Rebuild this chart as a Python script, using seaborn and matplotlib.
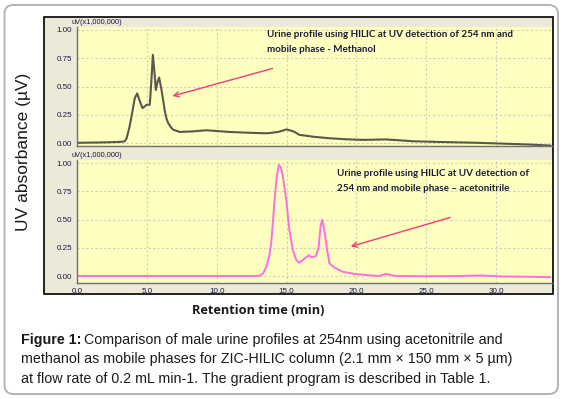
import matplotlib
matplotlib.use("Agg")
import matplotlib.pyplot as plt
import seaborn as sns
from matplotlib.patches import FancyBboxPatch, Rectangle
from matplotlib.transforms import IdentityTransform
from matplotlib.ticker import MultipleLocator

# Methanol trace (top panel)
meoh_time = [0, 1, 2, 3, 3.4, 3.55, 3.75, 3.9, 4.05, 4.14, 4.31, 4.5, 4.69, 4.85, 4.98,
             5.21, 5.33, 5.43, 5.55, 5.64, 5.76, 5.88, 6.05, 6.18, 6.29, 6.4, 6.52, 6.7,
             6.88, 7.36, 8.3, 9.26, 10.9, 12.5, 13.6, 14.4, 15.0, 15.5, 15.9, 16.9, 18.0,
             19.3, 20.5, 22.1, 23.0, 24.0, 25.5, 26.9, 28.5, 29.7, 31.2, 32.5, 33.9]
meoh_uv = [0.004, 0.006, 0.008, 0.012, 0.016, 0.044, 0.14, 0.235, 0.34, 0.40, 0.44, 0.37,
           0.31, 0.325, 0.34, 0.34, 0.56, 0.78, 0.62, 0.47, 0.54, 0.58, 0.47, 0.37, 0.28,
           0.22, 0.18, 0.145, 0.12, 0.10, 0.105, 0.115, 0.10, 0.092, 0.088, 0.10, 0.122,
           0.105, 0.075, 0.058, 0.045, 0.035, 0.03, 0.034, 0.027, 0.018, 0.013, 0.009,
           0.005, 0.0, -0.006, -0.012, -0.02]

# Acetonitrile trace (bottom panel)
acn_time = [0, 2, 5, 8, 11, 12.5, 13.07, 13.3, 13.55, 13.75, 13.9, 14.05, 14.14, 14.3,
            14.45, 14.6, 14.74, 14.98, 15.2, 15.45, 15.7, 15.9, 16.1, 16.3, 16.6, 16.8,
            17.1, 17.3, 17.43, 17.55, 17.7, 17.9, 18.07, 18.4, 19.0, 20.0, 21.0, 21.6,
            22.1, 22.8, 25.0, 27.5, 28.8, 30.5, 32.0, 33.9]
acn_uv = [0.0, 0.0, 0.0, 0.0, 0.0, 0.0, 0.002, 0.02, 0.08, 0.17, 0.29, 0.52, 0.67, 0.88,
          0.985, 0.96, 0.88, 0.67, 0.41, 0.23, 0.14, 0.118, 0.135, 0.156, 0.183, 0.166,
          0.177, 0.26, 0.44, 0.50, 0.41, 0.23, 0.113, 0.077, 0.038, 0.016, 0.006, 0.0,
          0.018, 0.0, -0.002, 0.0, 0.005, -0.004, -0.006, -0.01]

x_ticks = [0, 5, 10, 15, 20, 25, 30]
x_tick_labels = ["0.0", "5.0", "10.0", "15.0", "20.0", "25.0", "30.0"]
y_ticks = [0.0, 0.25, 0.5, 0.75, 1.0]
y_tick_labels = ["0.00", "0.25", "0.50", "0.75", "1.00"]

sns.set_style("white")
plt.rcParams["font.family"] = ["Liberation Sans", "DejaVu Sans"]

W, H = 565, 399
fig = plt.figure(figsize=(W / 100, H / 100), dpi=100)
fig.patch.set_facecolor("white")

# outer rounded box and instrument frame
fig.patches.append(FancyBboxPatch((4.5, 5), 553.5, 389, boxstyle="round,pad=0,rounding_size=9",
                                  transform=IdentityTransform(), facecolor="white",
                                  edgecolor="#b4b4b4", linewidth=1.4, zorder=0))
fig.patches.append(Rectangle((44, H - 294), 509, 277, transform=IdentityTransform(),
                             facecolor="#ece9d8", edgecolor="black", linewidth=1.2, zorder=1))

plot_bg = "#ffffc0"
tick_col = "#1a1a40"


def style_axis(ax, ylim, show_xlabels):
    ax.set_facecolor(plot_bg)
    ax.set_xlim(0, 34)
    ax.set_ylim(*ylim)
    ax.set_xticks(x_ticks)
    ax.set_yticks(y_ticks)
    ax.set_yticklabels(y_tick_labels)
    if show_xlabels:
        ax.set_xticklabels(x_tick_labels)
    else:
        ax.set_xticklabels([])
    ax.xaxis.set_minor_locator(MultipleLocator(1))
    ax.yaxis.set_minor_locator(MultipleLocator(0.05))
    ax.grid(True, which="major", color="#cfcfb8", linestyle=(0, (2, 2)), linewidth=0.8)
    for side in ["top", "right"]:
        ax.spines[side].set_visible(False)
    for side in ["left", "bottom"]:
        ax.spines[side].set_color("#707070")
        ax.spines[side].set_linewidth(1.0)
    ax.tick_params(which="major", direction="inout", length=4, width=0.8, color="#707070",
                   labelsize=5.8, labelcolor=tick_col, pad=1.5)
    ax.tick_params(which="minor", direction="inout", length=2.5, width=0.6, color="#808080")
    ax.set_xlabel("")
    ax.set_ylabel("")
    ax.text(-0.012, 1.005, "uV(x1,000,000)", transform=ax.transAxes, fontsize=5.3,
            color=tick_col, ha="left", va="bottom")


ax1 = fig.add_axes([77 / W, 1 - 146 / H, 475 / W, 119 / H], zorder=2)
sns.lineplot(x=meoh_time, y=meoh_uv, ax=ax1, color="#58584c", linewidth=1.5, estimator=None)
style_axis(ax1, (-0.024, 1.026), False)

ax2 = fig.add_axes([77 / W, 1 - 283 / H, 475 / W, 123 / H], zorder=2)
sns.lineplot(x=acn_time, y=acn_uv, ax=ax2, color="#ff6ee0", linewidth=1.4, estimator=None)
style_axis(ax2, (-0.062, 1.029), True)

note_col = "#1c1c38"
arrow_col = "#ee3d78"
note_font = ["Lato", "DejaVu Sans"]
ax1.text(13.6, 0.895, "Urine profile using HILIC at UV detection of 254 nm and\nmobile phase - Methanol",
         fontsize=7.1, fontweight="bold", color=note_col, family=note_font,
         ha="left", va="center", linespacing=1.9)
ax1.annotate("", xy=(6.64, 0.41), xytext=(14.2, 0.667),
             arrowprops=dict(arrowstyle="->", color=arrow_col, lw=1.0, mutation_scale=9))

ax2.text(18.6, 0.84, "Urine profile using HILIC at UV detection of\n254 nm and mobile phase \u2013 acetonitrile",
         fontsize=7.1, fontweight="bold", color=note_col, family=note_font,
         ha="left", va="center", linespacing=1.9)
ax2.annotate("", xy=(19.4, 0.255), xytext=(26.9, 0.526),
             arrowprops=dict(arrowstyle="->", color=arrow_col, lw=1.0, mutation_scale=9))

fig.text(24 / W, 1 - 152 / H, "UV absorbance (\u00b5V)", rotation=90, fontsize=12.5,
         color="#1a1a1a", ha="center", va="center")
fig.text(258 / W, 1 - 311 / H, "Retention time (min)", fontsize=9.2, fontweight="bold",
         color="#1a1a1a", family=["Open Sans", "DejaVu Sans"], ha="center", va="center")

# caption
cap_size = 10.3
cap_x = 21 / W
t_bold = fig.text(cap_x, 1 - 340 / H, "Figure 1:", fontsize=cap_size, fontweight="bold",
                  color="#1a1a1a", ha="left", va="center")
fig.canvas.draw()
bb = t_bold.get_window_extent(renderer=fig.canvas.get_renderer())
fig.text(bb.x1 / W + 3 / W, 1 - 340 / H,
         "Comparison of male urine profiles at 254nm using acetonitrile and",
         fontsize=cap_size, color="#1a1a1a", ha="left", va="center")
fig.text(cap_x, 1 - 359.5 / H,
         "methanol as mobile phases for ZIC-HILIC column (2.1 mm \u00d7 150 mm \u00d7 5 \u00b5m)",
         fontsize=cap_size, color="#1a1a1a", ha="left", va="center")
fig.text(cap_x, 1 - 379 / H,
         "at flow rate of 0.2 mL min-1. The gradient program is described in Table 1.",
         fontsize=cap_size, color="#1a1a1a", ha="left", va="center")

fig.savefig("out.png", dpi=100)
